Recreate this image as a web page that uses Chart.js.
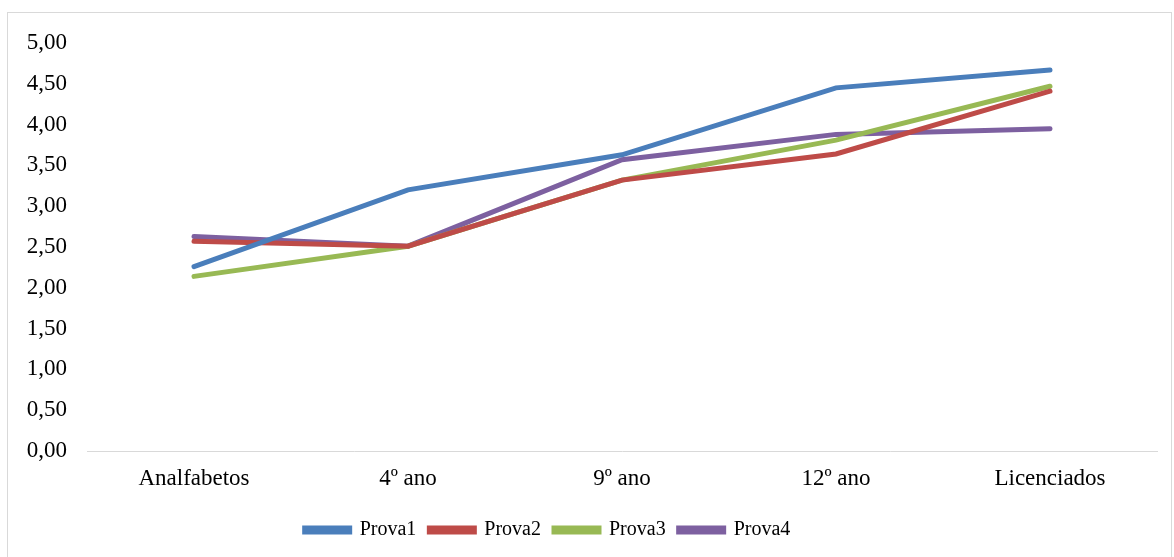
<!DOCTYPE html>
<html>
<head>
<meta charset="utf-8">
<script src="https://cdn.jsdelivr.net/npm/chart.js@4/dist/chart.umd.min.js"></script>
<style>
    body { margin: 0; background: #ffffff; }
    #wrap { position: relative; width: 1174px; height: 557px; overflow: hidden; }
    #frame { position: absolute; left: 7px; top: 12px; width: 1165px; height: 560px; border: 1px solid #d9d9d9; box-sizing: border-box; }
    #chart { position: absolute; left: 0; top: 0; }
</style>
</head>
<body>
<div id="wrap">
    <div id="frame"></div>
    <canvas id="chart" width="1174" height="557"></canvas>
</div>
<script>
// categories and series
const categories = ['Analfabetos', '4º ano', '9º ano', '12º ano', 'Licenciados'];
const prova1 = [2.26, 3.20, 3.63, 4.45, 4.67];
const prova2 = [2.57, 2.51, 3.32, 3.64, 4.41];
const prova3 = [2.14, 2.51, 3.32, 3.81, 4.47];
const prova4 = [2.63, 2.51, 3.57, 3.88, 3.95];
const seriesNames = ['Prova1', 'Prova2', 'Prova3', 'Prova4'];
const seriesColors = ['#4a7ebb', '#be4b48', '#98b954', '#7d60a0'];

const fontFamily = "'Liberation Serif', 'Times New Roman', serif";

const datasets = [prova1, prova2, prova3, prova4].map((values, i) => ({
    label: seriesNames[i],
    data: values,
    borderColor: seriesColors[i],
    backgroundColor: seriesColors[i],
    borderWidth: 5,
    pointRadius: 0,
    fill: false,
    tension: 0,
    borderCapStyle: 'round'
}));

// legend in the reference sits a bit left of centre
const legendShift = {
    id: 'legendShift',
    afterLayout: (chart) => {
        chart.legend.left -= 31;
        chart.legend.right -= 31;
    }
};

const config = {
    type: 'line',
    data: { labels: categories, datasets: datasets },
    options: {
        responsive: false,
        animation: false,
        layout: { padding: { top: 43, right: 17, bottom: 7, left: 0 } },
        plugins: {
            tooltip: { enabled: false },
            legend: {
                position: 'bottom',
                labels: {
                    boxWidth: 45,
                    boxHeight: 4,
                    padding: 13,
                    color: '#000000',
                    font: { family: fontFamily, size: 20 }
                }
            }
        },
        scales: {
            x: {
                offset: true,
                afterFit: scale => { scale.height = 56; },
                grid: { display: false, drawTicks: false },
                border: { display: true, color: '#d9d9d9', width: 1 },
                ticks: { color: '#000000', padding: 14, font: { family: fontFamily, size: 23 } }
            },
            y: {
                min: 0,
                max: 5,
                afterFit: scale => { scale.width = 87; },
                grid: { display: false, drawTicks: false },
                border: { display: false },
                ticks: {
                    stepSize: 0.5,
                    padding: 20,
                    color: '#000000',
                    font: { family: fontFamily, size: 23 },
                    callback: v => v.toFixed(2).replace('.', ',')
                }
            }
        }
    },
    plugins: [legendShift]
};

new Chart(document.getElementById('chart'), config);
</script>
</body>
</html>
